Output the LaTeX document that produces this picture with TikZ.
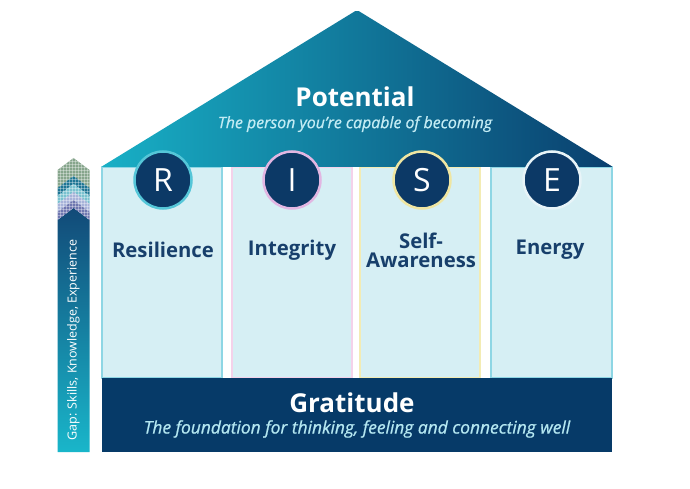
\documentclass[tikz,border=0pt]{standalone}
\usepackage{fontspec}
\setmainfont{Open Sans}
\newfontfamily\subfam{Open Sans}[FakeBold=0.8]
\usetikzlibrary{patterns}
\definecolor{navy}{HTML}{063A68}
\definecolor{circnavy}{HTML}{0C3966}
\definecolor{textnavy}{HTML}{173F6B}
\definecolor{pillarfill}{HTML}{D6EFF4}
\definecolor{tealedge}{HTML}{8ED6E4}
\definecolor{pinkedge}{HTML}{F4D2EA}
\definecolor{yellowedge}{HTML}{F3ECB4}
\definecolor{roofleft}{HTML}{18B0C6}
\definecolor{roofright}{HTML}{0A3F6E}
\definecolor{subcyan}{HTML}{B4E7F1}
\definecolor{rring}{HTML}{55C6D8}
\definecolor{iring}{HTML}{E2B6E2}
\definecolor{sring}{HTML}{EFE6A2}
\definecolor{ering}{HTML}{E8F4F8}
\definecolor{chevA}{HTML}{86A58C}
\definecolor{chevB}{HTML}{1E7594}
\definecolor{chevC}{HTML}{79C1CF}
\definecolor{chevD}{HTML}{A7B3D9}
\definecolor{chevE}{HTML}{6F77B0}
\definecolor{arrowtop}{HTML}{124A78}
\definecolor{arrowbot}{HTML}{19B6CA}
\tikzset{
  pillar/.style={rectangle, fill=pillarfill, line width=2pt, minimum height=211pt, inner sep=0pt},
  letter/.style={circle, fill=circnavy, line width=2.5pt, minimum size=57pt, inner sep=0pt, text=white, font=\fontsize{32}{34}\selectfont},
  plabel/.style={text=textnavy, font=\bfseries\fontsize{20.3}{22}\selectfont, align=center},
  title/.style={text=white, font=\bfseries\fontsize{26}{30}\selectfont},
  subtitle/.style={text=subcyan, font=\subfam\itshape\fontsize{15}{18}\selectfont},
  tex/.style={pattern=grid, pattern color=white, opacity=0.35}
}
\begin{document}
\begin{tikzpicture}[x=1pt,y=1pt]
\path[use as bounding box, fill=white] (0,0) rectangle (690,488);

% pillars
\node[pillar, draw=tealedge, minimum width=120pt] (p1) at (162,215.5) {};
\node[pillar, draw=pinkedge, minimum width=120pt] (p2) at (292,215.5) {};
\node[pillar, draw=yellowedge, minimum width=120pt] (p3) at (420,215.5) {};
\node[pillar, draw=tealedge, minimum width=121pt] (p4) at (551,215.5) {};

% roof
\coordinate (rl) at (101,321);
\coordinate (ra) at (357,478);
\coordinate (rr) at (613,321);
\shade[left color=roofleft, right color=roofright, rounded corners=2pt] (rl) -- (ra) -- (rr) -- cycle;
\node[title] (pot) at (355,391) {Potential};
\node[subtitle, text=subcyan!80!white, font=\subfam\itshape\fontsize{15.9}{18}\selectfont] (potsub) at (355,364) {The person you’re capable of becoming};

% base
\node[rectangle, fill=navy, minimum width=510pt, minimum height=74pt, inner sep=0pt] (base) at (356.5,73) {};
\node[title] (grat) at (352,85) {Gratitude};
\node[subtitle, font=\subfam\itshape\fontsize{17.4}{20}\selectfont] (gratsub) at (357,59) {The foundation for thinking, feeling and connecting well};

% circles
\node[letter, draw=rring] (R) at (163,308) {R};
\node[letter, draw=iring] (I) at (292,308) {I};
\node[letter, draw=sring] (S) at (422,308) {S};
\node[letter, draw=ering] (E) at (552,308) {E};

% pillar labels
\node[plabel] (res) at (163,238) {Resilience};
\node[plabel] (int) at (292,238) {Integrity};
\node[plabel] (sa) at (421,238) {Self-\\[-3pt]Awareness};
\node[plabel] (en) at (550,238) {Energy};

% left arrow
\coordinate (tip) at (73.5,330);
\shade[top color=arrowtop, bottom color=arrowbot] (57.5,268) -- (73.5,280) -- (89.5,268) -- (89.5,36) -- (57.5,36) -- cycle;
\fill[chevA] (57.5,318) -- (tip) -- (89.5,318) -- (89.5,300) -- (73.5,312) -- (57.5,300) -- cycle;
\fill[chevB] (57.5,300) -- (73.5,312) -- (89.5,300) -- (89.5,292) -- (73.5,304) -- (57.5,292) -- cycle;
\fill[chevC] (57.5,292) -- (73.5,304) -- (89.5,292) -- (89.5,284) -- (73.5,296) -- (57.5,284) -- cycle;
\fill[chevD] (57.5,284) -- (73.5,296) -- (89.5,284) -- (89.5,276) -- (73.5,288) -- (57.5,276) -- cycle;
\fill[chevE] (57.5,276) -- (73.5,288) -- (89.5,276) -- (89.5,268) -- (73.5,280) -- (57.5,268) -- cycle;
\fill[tex] (57.5,268) -- (57.5,318) -- (tip) -- (89.5,318) -- (89.5,268) -- (73.5,280) -- cycle;
\node[rotate=90, text=white, font=\fontsize{12.5}{14}\selectfont] (gap) at (73.5,148) {Gap: Skills, Knowledge, Experience};
\end{tikzpicture}
\end{document}
